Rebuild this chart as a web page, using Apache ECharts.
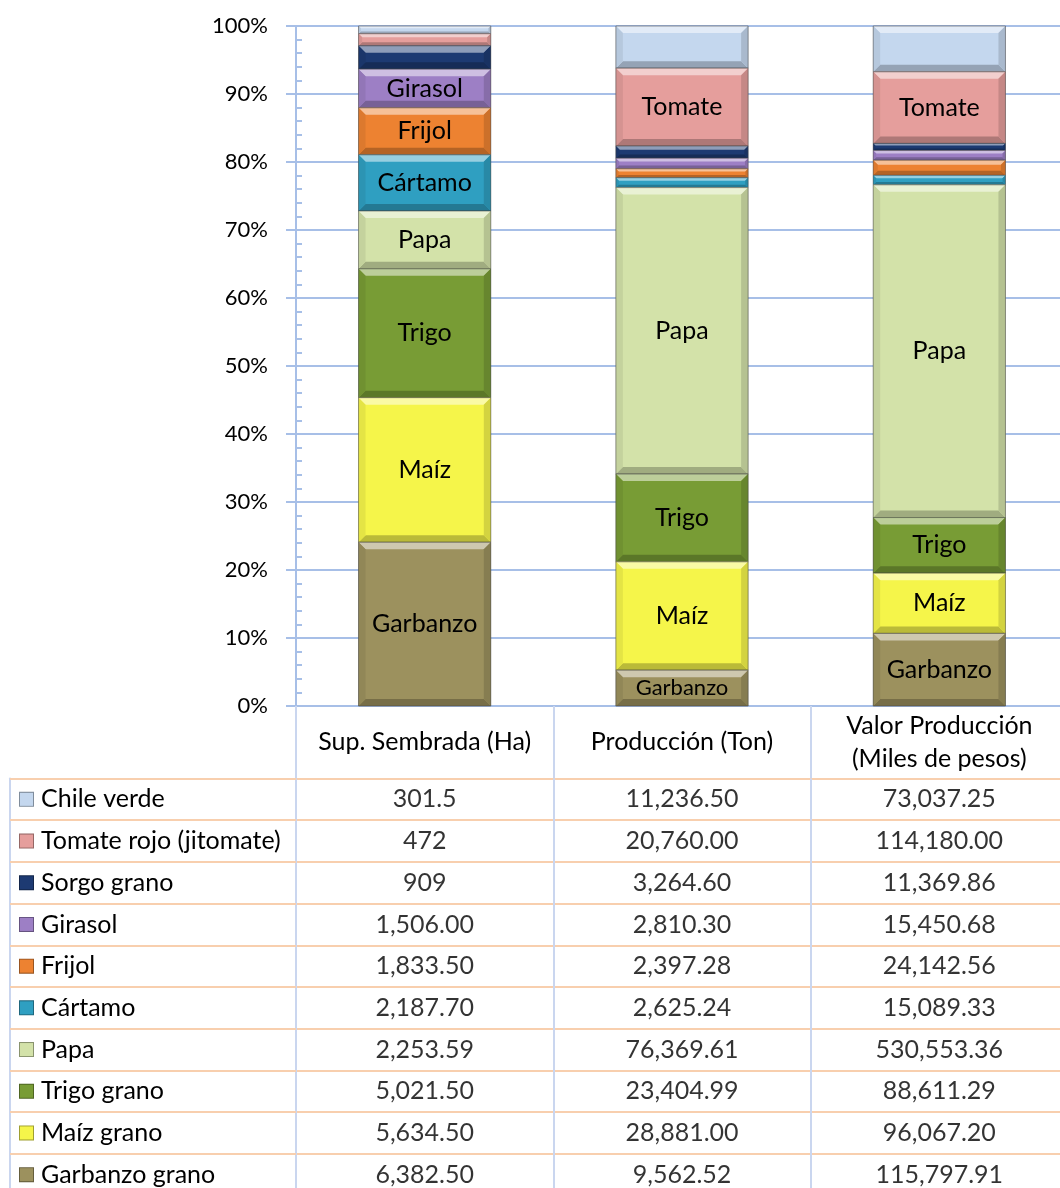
<!DOCTYPE html>
<html>
<head>
<meta charset="utf-8">
<script src="https://cdn.jsdelivr.net/npm/echarts@6/dist/echarts.min.js"></script>
<style>
  html, body { margin: 0; padding: 0; background: #ffffff; }
  #chart { width: 1060px; height: 1188px; }
</style>
</head>
<body>
<div id="chart"></div>
<script>
// Crops, listed top to bottom as in the data table (stack order is the reverse).
const crops = [
  'Chile verde', 'Tomate rojo (jitomate)', 'Sorgo grano', 'Girasol', 'Frijol',
  'Cártamo', 'Papa', 'Trigo grano', 'Maíz grano', 'Garbanzo grano'
];
// Short names written inside the bar segments ('' = never labelled).
const segmentNames = [
  '', 'Tomate', 'Sorgo', 'Girasol', 'Frijol',
  'Cártamo', 'Papa', 'Trigo', 'Maíz', 'Garbanzo'
];
// Measures (one bar each).
const measures = ['Sup. Sembrada (Ha)', 'Producción (Ton)', 'Valor Producción\n(Miles de pesos)'];

// Values per measure, as printed in the table.
const supSembrada = [
  '301.5', '472', '909', '1,506.00', '1,833.50',
  '2,187.70', '2,253.59', '5,021.50', '5,634.50', '6,382.50'
];
const produccion = [
  '11,236.50', '20,760.00', '3,264.60', '2,810.30', '2,397.28',
  '2,625.24', '76,369.61', '23,404.99', '28,881.00', '9,562.52'
];
const valorProduccion = [
  '73,037.25', '114,180.00', '11,369.86', '15,450.68', '24,142.56',
  '15,089.33', '530,553.36', '88,611.29', '96,067.20', '115,797.91'
];

// Percent axis.
const pctMin = 0, pctMax = 100, pctStep = 10;

const cropColors = [
  '#c4d7ee', '#e59e9c', '#1d3a72', '#9d7fc5', '#ed8231',
  '#2f9fc1', '#d3e2a9', '#789c35', '#f5f54a', '#9c915e'
];

const FONT = 'Lato';
const TEXT_SIZE = 25;
const BAR_RATIO = 0.514;

const tableColumns = [supSembrada, produccion, valorProduccion];
const numericColumns = tableColumns.map(col => col.map(s => Number(s.replace(/,/g, ''))));
const totals = numericColumns.map(col => col.reduce((a, b) => a + b, 0));

// Share of each crop per measure, stacked from the last crop upward.
const segments = crops.map(() => []);
const running = numericColumns.map(() => 0);
for (let i = crops.length - 1; i >= 0; i--) {
  numericColumns.forEach((col, c) => {
    const pct = col[i] / totals[c] * 100;
    segments[i].push([c, running[c], running[c] + pct, col[i]]);
    running[c] += pct;
  });
}

function mix(hex, toWhite, t) {
  const n = parseInt(hex.slice(1), 16);
  const r = (n >> 16) & 255, g = (n >> 8) & 255, b = n & 255;
  const tgt = toWhite ? 255 : 0;
  const f = v => Math.round(v + (tgt - v) * t);
  return 'rgb(' + f(r) + ',' + f(g) + ',' + f(b) + ')';
}

// Bevelled stacked segment.
function makeRenderer(idx) {
  const base = cropColors[idx];
  const light = mix(base, true, 0.5);
  const dark = mix(base, false, 0.24);
  const sideL = mix(base, false, 0.07);
  const sideR = mix(base, false, 0.14);
  return function (params, api) {
    const c = api.value(0), lo = api.value(1), hi = api.value(2);
    const pLo = api.coord([c, lo]);
    const pHi = api.coord([c, hi]);
    const w = api.size([1, 0])[0] * BAR_RATIO;
    const x0 = pLo[0] - w / 2, y0 = pHi[1], h = pLo[1] - pHi[1];
    const d = Math.max(0.5, Math.min(7, h * 0.3));
    const children = [
      { type: 'rect', shape: { x: x0, y: y0, width: w, height: h }, style: { fill: base } },
      { type: 'polygon', shape: { points: [[x0, y0], [x0 + w, y0], [x0 + w - d, y0 + d], [x0 + d, y0 + d]] }, style: { fill: light } },
      { type: 'polygon', shape: { points: [[x0, y0 + h], [x0 + w, y0 + h], [x0 + w - d, y0 + h - d], [x0 + d, y0 + h - d]] }, style: { fill: dark } },
      { type: 'polygon', shape: { points: [[x0, y0], [x0 + d, y0 + d], [x0 + d, y0 + h - d], [x0, y0 + h]] }, style: { fill: sideL } },
      { type: 'polygon', shape: { points: [[x0 + w, y0], [x0 + w - d, y0 + d], [x0 + w - d, y0 + h - d], [x0 + w, y0 + h]] }, style: { fill: sideR } },
      { type: 'rect', shape: { x: x0, y: y0, width: w, height: h }, style: { fill: 'none', stroke: 'rgba(70,70,70,0.55)', lineWidth: 1 } }
    ];
    const share = hi - lo;
    if (segmentNames[idx] && share >= 5) {
      children.push({
        type: 'text',
        style: {
          text: segmentNames[idx],
          x: pLo[0], y: y0 + h / 2,
          align: 'center', verticalAlign: 'middle',
          fontFamily: FONT, fontSize: share < 5.5 ? 22 : TEXT_SIZE, fill: '#000'
        }
      });
    }
    return { type: 'group', children: children };
  };
}

const barSeries = crops.map((name, i) => ({
  type: 'custom',
  name: name,
  xAxisIndex: 0,
  yAxisIndex: 0,
  renderItem: makeRenderer(i),
  encode: { x: 0, y: [1, 2] },
  data: segments[i],
  silent: true
}));

// Table cells.
const cellTexts = [];
const cellData = [];
tableColumns.forEach((col, c) => {
  col.forEach((txt, r) => {
    cellData.push([c, r]);
    cellTexts.push(txt);
  });
});

const keyRich = { g: { width: 8 } };
cropColors.forEach((col, i) => {
  keyRich['k' + i] = {
    width: 13, height: 13,
    backgroundColor: col,
    borderColor: mix(col, false, 0.35), borderWidth: 1
  };
});

const gridBlue = '#a7bfe7';
const cellBlue = '#cad6ef';
const cellOrange = '#f8cfae';

const chart = echarts.init(document.getElementById('chart'), null, { renderer: 'canvas' });
chart.setOption({
  animation: false,
  backgroundColor: '#ffffff',
  textStyle: { fontFamily: FONT },
  grid: [
    { left: 296, top: 26, width: 772, height: 680, outerBoundsMode: 'none' },
    { left: 296, top: 778.5, width: 772, height: 417, outerBoundsMode: 'none' }
  ],
  xAxis: [
    {
      type: 'category', gridIndex: 0, data: measures,
      axisLine: { show: true, lineStyle: { color: gridBlue, width: 2 } },
      axisTick: { show: true, length: 72, lineStyle: { color: cellBlue, width: 2 } },
      axisLabel: {
        fontFamily: FONT, fontSize: TEXT_SIZE, color: '#000', margin: 36,
        lineHeight: 33, verticalAlign: 'middle', interval: 0
      },
      splitLine: { show: false }
    },
    {
      type: 'category', gridIndex: 1, data: [0, 1, 2],
      axisLine: { show: false }, axisTick: { show: false }, axisLabel: { show: false },
      splitLine: { show: true, lineStyle: { color: cellBlue, width: 2 } }
    }
  ],
  yAxis: [
    {
      type: 'value', gridIndex: 0, min: pctMin, max: pctMax, interval: pctStep,
      axisLine: { show: true, lineStyle: { color: gridBlue, width: 2 } },
      axisTick: { show: true, length: 10, lineStyle: { color: gridBlue, width: 2 } },
      minorTick: { show: true, splitNumber: 5, length: -6, lineStyle: { color: gridBlue, width: 2 } },
      splitLine: { show: true, lineStyle: { color: gridBlue, width: 2 } },
      axisLabel: { formatter: '{value}%', fontFamily: FONT, fontSize: 22, color: '#000', margin: 28 }
    },
    {
      type: 'category', gridIndex: 1, data: crops, inverse: true,
      axisLine: { show: false },
      axisTick: { show: true, length: 286, lineStyle: { color: cellOrange, width: 2 } },
      splitLine: { show: true, lineStyle: { color: cellOrange, width: 2 } },
      axisLabel: {
        align: 'left', margin: 276, fontFamily: FONT, fontSize: TEXT_SIZE, color: '#000',
        formatter: (v, idx) => '{k' + idx + '|}{g|}' + v,
        rich: keyRich
      }
    },
    {
      type: 'category', gridIndex: 1, data: crops, inverse: true,
      position: 'left', offset: 286,
      axisLine: { show: true, lineStyle: { color: cellBlue, width: 2 } },
      axisTick: { show: false }, axisLabel: { show: false }, splitLine: { show: false }
    }
  ],
  series: barSeries.concat([
    {
      type: 'scatter', xAxisIndex: 1, yAxisIndex: 1,
      symbolSize: 0, silent: true,
      data: cellData,
      label: {
        show: true, position: 'inside',
        formatter: p => cellTexts[p.dataIndex],
        fontFamily: FONT, fontSize: TEXT_SIZE, color: '#000'
      }
    }
  ])
});
</script>
</body>
</html>
